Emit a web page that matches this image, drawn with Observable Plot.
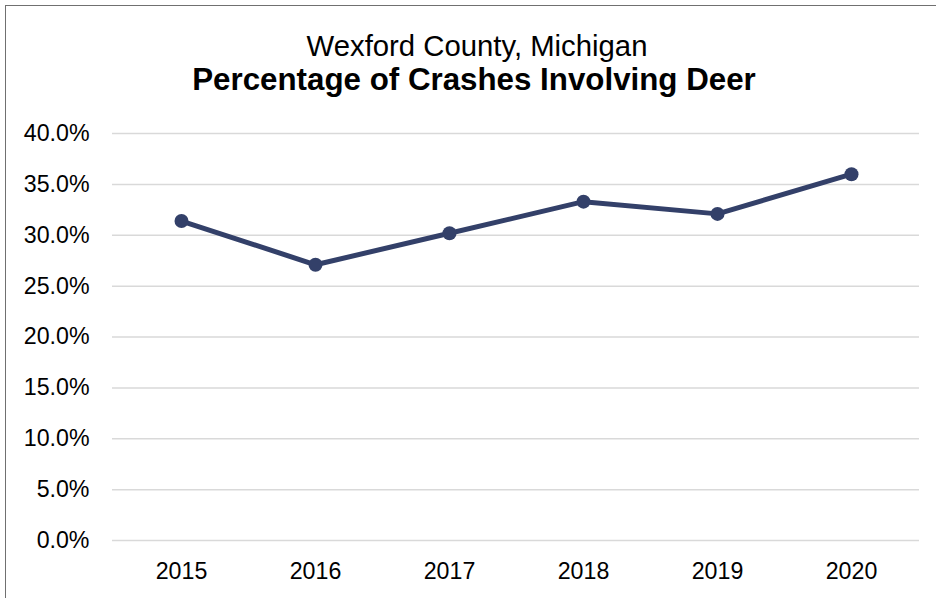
<!DOCTYPE html>
<html>
<head>
<meta charset="utf-8">
<script src="https://cdn.jsdelivr.net/npm/d3@7"></script>
<script src="https://cdn.jsdelivr.net/npm/@observablehq/plot@0.6"></script>
<style>
  html, body { margin: 0; padding: 0; background: #fff; }
  #wrap { position: relative; width: 936px; height: 598px; overflow: hidden; font-family: "Liberation Sans", Arial, sans-serif; }
  #frame { position: absolute; left: 5px; top: 5px; width: 960px; height: 620px; border-left: 1.5px solid #707070; border-top: 1.5px solid #707070; }
  #header { position: absolute; left: 0; top: 0; width: 936px; height: 110px; }
  .t1 { position: absolute; left: 9px; top: 31px; width: 936px; text-align: center; font-size: 29.3px; line-height: 29px; color: #000; }
  .t2 { position: absolute; left: 6px; top: 64px; width: 936px; text-align: center; font-size: 31.3px; line-height: 31px; font-weight: bold; color: #000; }
  #chart { position: absolute; left: 0; top: 110px; }
</style>
</head>
<body>
<div id="wrap">
  <div id="frame"></div>
  <div id="header">
    <div class="t1">Wexford County, Michigan</div>
    <div class="t2">Percentage of Crashes Involving Deer</div>
  </div>
  <div id="chart"></div>
</div>
<script>
const years = ["2015", "2016", "2017", "2018", "2019", "2020"];
const deerPct = [0.314, 0.271, 0.302, 0.333, 0.321, 0.360];
const yTicks = [0, 0.05, 0.10, 0.15, 0.20, 0.25, 0.30, 0.35, 0.40];

const data = years.map((y, i) => ({year: y, pct: deerPct[i]}));

const chart = Plot.plot({
  width: 936,
  height: 488,
  marginTop: 23,
  marginBottom: 58,
  marginLeft: 112,
  marginRight: 17,
  style: { fontSize: "23.2px", fontFamily: "'Liberation Sans', Arial, sans-serif", color: "#000", background: "transparent" },
  x: { type: "point", domain: years, padding: 0.5, tickSize: 0, tickPadding: 22, label: null },
  y: { domain: [0, 0.4], ticks: yTicks, tickFormat: d3.format(".1%"), tickSize: 0, tickPadding: 23, label: null },
  marks: [
    Plot.ruleY(yTicks, { stroke: "#d9d9d9", strokeWidth: 1.5 }),
    Plot.line(data, { x: "year", y: "pct", stroke: "#334069", strokeWidth: 5 }),
    Plot.dot(data, { x: "year", y: "pct", r: 7, fill: "#334069", stroke: "none" })
  ]
});
document.getElementById("chart").appendChild(chart);
</script>
</body>
</html>
